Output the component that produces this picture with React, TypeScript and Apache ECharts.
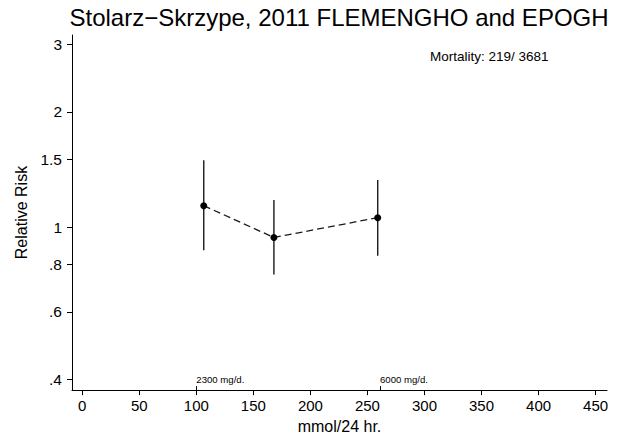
import React, { useEffect, useRef } from "react";
import * as echarts from "echarts";

const doses = [106.5, 168, 259];
const rr = [1.137, 0.939, 1.058];
const rrLow = [0.869, 0.751, 0.841];
const rrHigh = [1.495, 1.176, 1.327];

const yTicks = [0.4, 0.6, 0.8, 1, 1.5, 2, 3];
const yTickLabels = [".4", ".6", ".8", "1", "1.5", "2", "3"];
const xTicks = [0, 50, 100, 150, 200, 250, 300, 350, 400, 450];
const refTicks = [100, 261];
const refLabels = ["2300 mg/d.", "6000 mg/d."];

const titleText = "Stolarz\u2212Skrzype, 2011 FLEMENGHO and EPOGH";
const noteText = "Mortality: 219/ 3681";
const xName = "mmol/24 hr.";
const yName = "Relative Risk";

const X_MIN = -9;
const X_MAX = 460;
const Y_MIN = 0.3746;
const Y_MAX = 3.178;

const FONT = "Liberation Sans, Arial, Helvetica, sans-serif";

export default function App() {
  const ref = useRef<HTMLDivElement>(null);
  useEffect(() => {
    document.body.style.margin = "0";
    if (!ref.current) return;
    const chart = echarts.init(ref.current, null, { renderer: "svg" });
    const lnTicks = yTicks.map((v) => Math.log(v));
    const yLabelFor = (v: number) => {
      let best = 0;
      for (let i = 0; i < lnTicks.length; i++) {
        if (Math.abs(lnTicks[i] - v) < Math.abs(lnTicks[best] - v)) best = i;
      }
      return yTickLabels[best];
    };
    const refLabelFor = (v: number) => {
      let best = 0;
      for (let i = 0; i < refTicks.length; i++) {
        if (Math.abs(refTicks[i] - v) < Math.abs(refTicks[best] - v)) best = i;
      }
      return refLabels[best];
    };
    const pointData = doses.map((d, i) => [d, Math.log(rr[i])]);
    const ciData = doses.map((d, i) => [d, Math.log(rrLow[i]), Math.log(rrHigh[i])]);

    chart.setOption({
      animation: false,
      backgroundColor: "#ffffff",
      textStyle: { fontFamily: FONT },
      title: {
        text: titleText,
        left: 334,
        top: 0,
        textAlign: "center",
        textStyle: { fontFamily: FONT, fontSize: 24, fontWeight: "normal", color: "#000" },
      },
      graphic: [
        {
          type: "text",
          left: 430,
          top: 49,
          style: { text: noteText, font: `13.5px ${FONT}`, fill: "#000" },
        },
      ],
      grid: { left: 72, right: 15, top: 35, bottom: 45, containLabel: false },
      xAxis: [
        {
          type: "value",
          min: X_MIN,
          max: X_MAX,
          name: xName,
          nameLocation: "middle",
          nameGap: 25,
          nameTextStyle: { fontFamily: FONT, fontSize: 16, color: "#000" },
          axisLine: { show: true, onZero: false, lineStyle: { color: "#000", width: 1 } },
          axisTick: { show: true, length: 5, customValues: xTicks, lineStyle: { color: "#000" } },
          axisLabel: {
            customValues: xTicks,
            margin: 8,
            fontFamily: FONT,
            fontSize: 15,
            color: "#000",
          },
          splitLine: { show: false },
        },
        {
          type: "value",
          min: X_MIN,
          max: X_MAX,
          position: "bottom",
          axisLine: { show: false, onZero: false },
          axisTick: {
            show: true,
            inside: true,
            length: 4,
            customValues: refTicks,
            lineStyle: { color: "#000" },
          },
          axisLabel: {
            inside: true,
            customValues: refTicks,
            formatter: (v: number) => refLabelFor(v),
            align: "left",
            margin: 6,
            fontFamily: FONT,
            fontSize: 9.6,
            color: "#000",
          },
          splitLine: { show: false },
        },
      ],
      yAxis: {
        type: "value",
        min: Math.log(Y_MIN),
        max: Math.log(Y_MAX),
        name: yName,
        nameLocation: "middle",
        nameGap: 38,
        nameTextStyle: { fontFamily: FONT, fontSize: 16, color: "#000" },
        axisLine: { show: true, onZero: false, lineStyle: { color: "#000", width: 1 } },
        axisTick: { show: true, length: 5, customValues: lnTicks, lineStyle: { color: "#000" } },
        axisLabel: {
          customValues: lnTicks,
          formatter: (v: number) => yLabelFor(v),
          margin: 10,
          fontFamily: FONT,
          fontSize: 15.5,
          color: "#000",
        },
        splitLine: { show: false },
      },
      series: [
        {
          type: "custom",
          xAxisIndex: 0,
          encode: { x: 0, y: [1, 2] },
          data: ciData,
          renderItem: (params: any, api: any) => {
            const x = api.value(0);
            const lo = api.coord([x, api.value(1)]);
            const hi = api.coord([x, api.value(2)]);
            return {
              type: "line",
              shape: { x1: lo[0], y1: lo[1], x2: hi[0], y2: hi[1] },
              style: { stroke: "#1a1a1a", lineWidth: 1.4 },
            };
          },
          z: 2,
        },
        {
          type: "line",
          xAxisIndex: 0,
          data: pointData,
          symbol: "circle",
          symbolSize: 7,
          itemStyle: { color: "#000" },
          lineStyle: { color: "#1a1a1a", width: 1.3, type: [7, 4] },
          z: 3,
        },
      ],
    });
    return () => chart.dispose();
  }, []);
  return <div ref={ref} style={{ width: 622, height: 439 }} />;
}
